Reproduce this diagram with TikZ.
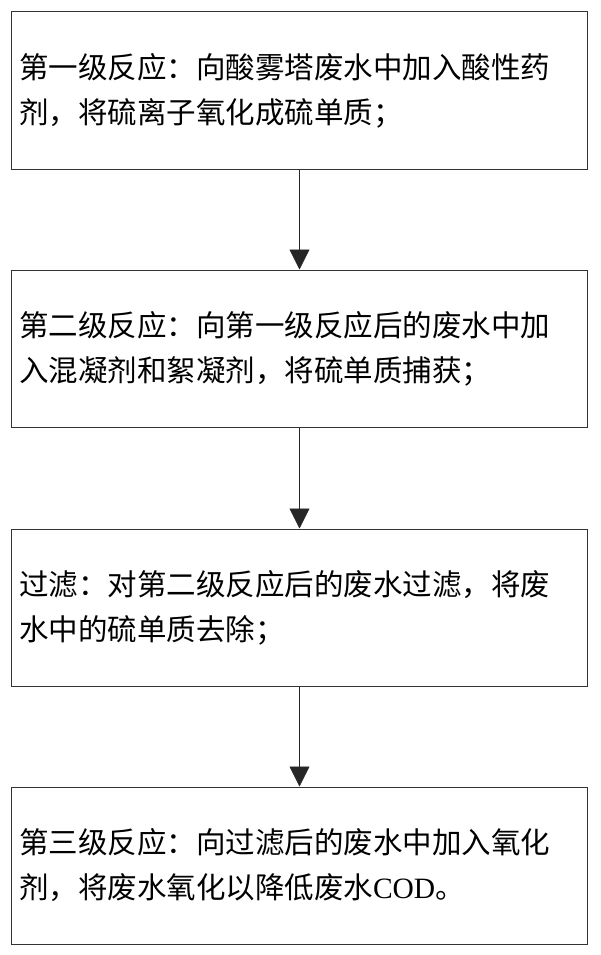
\documentclass[tikz,border=0pt]{standalone}
\usepackage{fontspec}
\setmainfont{Liberation Serif}
\newfontfamily\cjk{Noto Sans CJK SC}
\usetikzlibrary{positioning,arrows.meta}

\tikzset{
  stagebox/.style={draw=black!80, line width=1pt, minimum width=576pt, minimum height=157pt,
    inner xsep=7.5pt, text width=561pt, align=left,
    font=\cjk\fontsize{29.5pt}{45pt}\selectfont},
  flowarrow/.style={-{Triangle[width=20pt,length=20pt]}, line width=0.8pt, black!85}
}

\begin{document}
\begin{tikzpicture}[x=1pt,y=1pt]
    \useasboundingbox (0,0) rectangle (600,-955);
    \node[stagebox] (stageA) at (299.5,-90.5)
        {第一级反应：向酸雾塔废水中加入酸性药\\剂，将硫离子氧化成硫单质；};
    \node[stagebox, below=100pt of stageA] (stageB)
        {第二级反应：向第一级反应后的废水中加\\入混凝剂和絮凝剂，将硫单质捕获；};
    \node[stagebox, below=101pt of stageB] (filter)
        {过滤：对第二级反应后的废水过滤，将废\\水中的硫单质去除；};
    \node[stagebox, below=100pt of filter] (stageC)
        {第三级反应：向过滤后的废水中加入氧化\\剂，将废水氧化以降低废水{\rmfamily COD}。};

	\foreach \from/\to in {stageA/stageB,stageB/filter,filter/stageC}{\draw[flowarrow] (\from) -- (\to);}
\end{tikzpicture}
\end{document}
